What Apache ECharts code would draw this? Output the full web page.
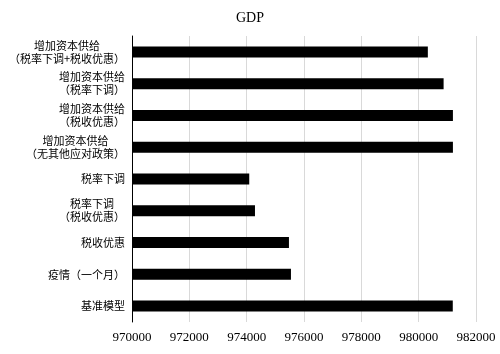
<!DOCTYPE html>
<html>
<head>
<meta charset="utf-8">
<script src="https://cdn.jsdelivr.net/npm/echarts@6/dist/echarts.min.js"></script>
<style>
  html, body { margin: 0; padding: 0; background: #fff; }
  #chart { width: 500px; height: 354px; }
</style>
</head>
<body>
<div id="chart"></div>
<script>
// 情景（从上到下）
const categories = [
  '增加资本供给\n（税率下调+税收优惠）',
  '增加资本供给\n（税率下调）',
  '增加资本供给\n（税收优惠）',
  '增加资本供给\n（无其他应对政策）',
  '税率下调',
  '税率下调\n（税收优惠）',
  '税收优惠',
  '疫情（一个月）',
  '基准模型'
]
const gdpValues = [980320, 980870, 981195, 981195, 974090, 974290, 975475, 975545, 981190]
const xTicks = [970000, 972000, 974000, 976000, 978000, 980000, 982000]

const chart = echarts.init(document.getElementById('chart'))
chart.setOption({
  backgroundColor: '#fff',
  animation: false,
  title: {
    text: 'GDP',
    left: 'center',
    top: 6,
    textStyle: {
      fontFamily: 'Liberation Serif',
      fontWeight: 'normal',
      fontSize: 14,
      color: '#000'
    }
  },
  grid: {
    left: 132,
    right: 24,
    top: 36,
    bottom: 32
  },
  xAxis: {
    type: 'value',
    min: xTicks[0],
    max: xTicks[xTicks.length - 1],
    interval: 2000,
    axisLine: { show: false },
    axisTick: { show: false },
    axisLabel: {
      margin: 9,
      fontFamily: 'Liberation Serif',
      fontSize: 13,
      color: '#000',
      formatter: function (v) { return String(v) }
    },
    splitLine: {
      show: true,
      lineStyle: { color: '#d9d9d9', width: 1 }
    }
  },
  yAxis: {
    type: 'category',
    inverse: true,
    data: categories,
    axisLine: { show: true, lineStyle: { color: '#000', width: 1 } },
    axisTick: { show: false },
    axisLabel: {
      margin: 7,
      align: 'right',
      color: '#000',
      fontFamily: 'Noto Sans CJK SC',
      fontSize: 11,
      lineHeight: 13,
      formatter: function (v) {
        return v.split('\n').map(s => '{c|' + s + '}').join('\n')
      },
      rich: {
        c: {
          align: 'center',
          fontFamily: 'Noto Sans CJK SC',
          fontSize: 11,
          lineHeight: 13,
          color: '#000'
        }
      }
    }
  },
  series: [{
    type: 'bar',
    data: gdpValues,
    barWidth: 11,
    itemStyle: { color: '#000' }
  }]
})
</script>
</body>
</html>
